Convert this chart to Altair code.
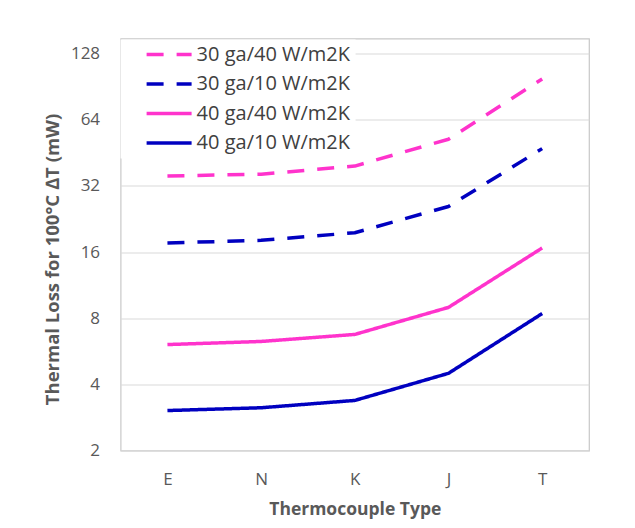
import altair as alt
import pandas as pd

types = ["E", "N", "K", "J", "T"]
series = ["30 ga/40 W/m2K", "30 ga/10 W/m2K", "40 ga/40 W/m2K", "40 ga/10 W/m2K"]
s30_40 = [35.5, 36.2, 39.4, 52.2, 98.2]
s30_10 = [17.6, 18.1, 19.6, 25.8, 47.3]
s40_40 = [6.07, 6.27, 6.75, 8.96, 16.7]
s40_10 = [3.04, 3.13, 3.38, 4.49, 8.40]
y_ticks = [2, 4, 8, 16, 32, 64, 128]
colors = ["#FF33CC", "#0000C0", "#FF33CC", "#0000C0"]
dashes = [[17, 13], [17, 13], [1, 0], [1, 0]]

rows = []
for name, vals in zip(series, [s30_40, s30_10, s40_40, s40_10]):
    for t, v in zip(types, vals):
        rows.append({"type": t, "loss": v, "series": name})
df = pd.DataFrame(rows)

FONT = "Open Sans"
GRAY = "#595959"


def make_legend():
    return alt.Legend(title=None, orient="none", legendX=0, legendY=1,
                      fillColor="white", padding=5, symbolType="stroke",
                      symbolSize=2025, symbolStrokeWidth=3.5, clipHeight=20,
                      rowPadding=9.5, symbolOffset=19, labelOffset=3,
                      labelFont=FONT, labelFontSize=20, labelColor="#404040",
                      labelLimit=400)


chart = alt.Chart(df).mark_line(strokeWidth=3.5, strokeCap="butt", strokeJoin="round").encode(
    x=alt.X("type:N", sort=types,
            scale=alt.Scale(type="point", padding=0.5),
            axis=alt.Axis(title="Thermocouple Type", labelAngle=0, domain=False, ticks=False, grid=False,
                          labelPadding=21, labelFontSize=17, labelColor=GRAY, labelFont=FONT,
                          titleFont=FONT, titleFontSize=17.5, titleFontWeight="bold", titleColor=GRAY,
                          titleBaseline="alphabetic", titleY=64)),
    y=alt.Y("loss:Q",
            scale=alt.Scale(type="log", base=2, domain=[2, 150], nice=False),
            axis=alt.Axis(title="Thermal Loss for 100°C \u2206T  (mW)", values=y_ticks, format="d",
                          domain=False, ticks=False, grid=True, gridColor="#d9d9d9", gridWidth=1,
                          labelPadding=21, labelFontSize=17, labelColor=GRAY, labelFont=FONT,
                          titleFont=FONT, titleFontSize=18.5, titleFontWeight="bold", titleColor=GRAY,
                          titleAngle=270, titleAlign="center", titleBaseline="alphabetic",
                          titleX=-62, titleY=220.5)),
    color=alt.Color("series:N", sort=series,
                    scale=alt.Scale(domain=series, range=colors),
                    legend=make_legend()),
    strokeDash=alt.StrokeDash("series:N", sort=series,
                              scale=alt.Scale(domain=series, range=dashes),
                              legend=make_legend()),
).properties(
    width=468.4,
    height=412,
    autosize=alt.AutoSizeParams(type="none"),
    padding={"left": 112.6, "top": 30.5, "right": 30, "bottom": 69},
).configure_view(stroke="#c8c8c8", strokeWidth=1.2)

chart.save("out.html", embed_options={"renderer": "svg", "actions": False})
